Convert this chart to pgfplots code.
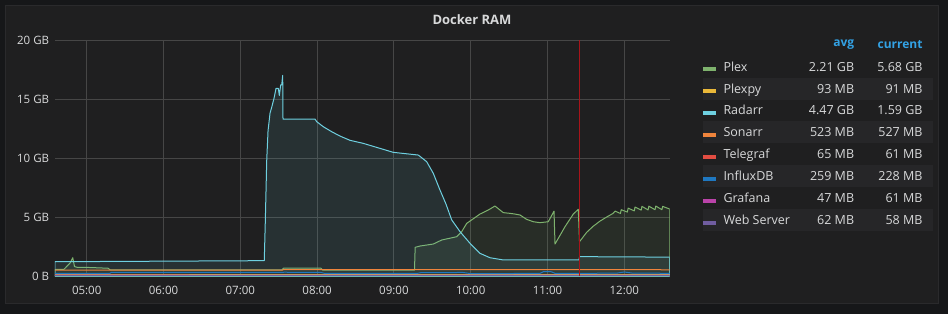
\documentclass[border=0pt]{standalone}
\usepackage{pgfplots}
\pgfplotsset{compat=1.18}
\usepackage{fontspec}
\setmainfont{Open Sans}
\definecolor{pagebg}{HTML}{161719}
\definecolor{panelbg}{HTML}{1F1F20}
\definecolor{panelborder}{HTML}{2A2A2C}
\definecolor{rowbg}{HTML}{262628}
\definecolor{gridc}{HTML}{464646}
\definecolor{textc}{HTML}{D8D9DA}
\definecolor{headc}{HTML}{33A2E5}
\definecolor{cplex}{HTML}{7EB26D}
\definecolor{cplexpy}{HTML}{EAB839}
\definecolor{cradarr}{HTML}{6ED0E0}
\definecolor{csonarr}{HTML}{EF843C}
\definecolor{ctele}{HTML}{E24D42}
\definecolor{cinflux}{HTML}{1F78C1}
\definecolor{cgraf}{HTML}{BA43A9}
\definecolor{cweb}{HTML}{705DA0}
\definecolor{annot}{HTML}{A8141A}
\begin{document}
\begin{tikzpicture}
\fill[pagebg] (0pt,0pt) rectangle (948pt,-314pt);
\filldraw[fill=panelbg, draw=panelborder, line width=1pt] (5.5pt,-5.5pt) rectangle (938.5pt,-303.5pt);
\node[font=\bfseries\fontsize{13}{15}\selectfont, text=textc, inner sep=0pt] at (472pt,-20pt) {Docker RAM};
\begin{axis}[
  at={(55pt,-276pt)}, anchor=south west,
  scale only axis, width=614.6pt, height=236pt,
  xmin=4.587, xmax=12.59, ymin=0, ymax=20,
  axis line style={draw=none},
  major tick length=0pt,
  grid=major, grid style={draw=gridc, line width=1pt},
  xtick={5,6,7,8,9,10,11,12},
  xticklabels={05:00,06:00,07:00,08:00,09:00,10:00,11:00,12:00},
  ytick={0,5,10,15,20},
  yticklabels={0 B,5 GB,10 GB,15 GB,20 GB},
  ticklabel style={font=\fontsize{11.5}{13}\selectfont, text=textc, inner sep=0pt, text height=8.2pt, text depth=0pt},
  xticklabel style={anchor=north, yshift=-10.5pt},
  yticklabel style={anchor=east, xshift=-5.7pt},
  /pgf/number format/assume math mode=true,
  every axis plot/.append style={line width=1pt, line join=round},
]
% Plex
\addplot[draw=cplex, fill=cplex, fill opacity=0.1] coordinates {
(4.587,0.55)(4.704,0.57)(4.783,1.10)(4.818,1.55)(4.841,0.80)(4.874,0.74)(5.043,0.72)(5.277,0.66)(5.303,0.53)
(7.543,0.53)(7.562,0.66)(8.051,0.66)(8.070,0.50)(9.268,0.50)(9.277,2.43)(9.340,2.54)(9.513,2.71)(9.622,3.05)
(9.818,3.33)(9.883,3.76)(9.948,4.46)(10.121,5.25)(10.229,5.59)(10.316,5.93)(10.424,5.37)(10.512,5.31)(10.577,5.25)
(10.642,5.17)(10.729,4.80)(10.816,4.60)(10.902,4.52)(11.010,4.60)(11.085,5.50)(11.098,2.71)(11.228,4.18)(11.336,5.25)
(11.401,5.65)(11.417,2.91)(11.510,3.70)(11.592,4.20)(11.683,4.65)(11.771,5.00)(11.853,5.30)(11.880,5.50)(11.950,5.30)
(11.960,5.62)(12.040,5.42)(12.050,5.75)(12.130,5.52)(12.140,5.85)(12.220,5.58)(12.230,5.90)(12.310,5.60)(12.320,5.92)
(12.400,5.62)(12.410,5.93)(12.490,5.62)(12.500,5.90)(12.590,5.68)
} \closedcycle;
% Plexpy
\addplot[draw=cplexpy] coordinates {(4.587,0.09)(12.59,0.09)};
% Radarr
\addplot[draw=cradarr, fill=cradarr, fill opacity=0.1] coordinates {
(4.587,1.21)(7.312,1.30)(7.325,4.5)(7.344,9.8)(7.361,12.3)(7.387,13.8)(7.409,14.3)(7.439,15.06)(7.465,15.9)
(7.495,15.9)(7.508,15.3)(7.526,16.2)(7.539,16.2)(7.552,17.0)(7.556,13.3)(7.973,13.3)(7.995,13.08)(8.081,12.65)
(8.190,12.23)(8.298,11.86)(8.428,11.5)(8.602,11.24)(8.776,10.9)(8.992,10.48)(9.318,10.25)(9.427,9.69)(9.513,8.7)
(9.600,7.29)(9.678,6.1)(9.753,4.75)(9.861,3.76)(9.991,2.77)(10.121,1.92)(10.251,1.55)(10.424,1.36)(11.410,1.36)
(11.418,1.64)(12.59,1.60)
} \closedcycle;
% Sonarr
\addplot[draw=csonarr] coordinates {(4.587,0.50)(7.55,0.50)(7.56,0.54)(12.59,0.53)};
% Telegraf
\addplot[draw=ctele] coordinates {(4.587,0.065)(12.59,0.061)};
% InfluxDB
\addplot[draw=cinflux] coordinates {
(4.587,0.22)(5.30,0.22)(5.32,0.30)(7.55,0.30)(7.57,0.32)(8.05,0.30)(8.10,0.22)(9.30,0.22)(9.35,0.28)(9.90,0.30)
(10.0,0.20)(10.90,0.22)(10.95,0.38)(11.05,0.36)(11.10,0.22)(11.90,0.24)(12.0,0.34)(12.1,0.25)(12.59,0.228)
};
% Grafana
\addplot[draw=cgraf] coordinates {(4.587,0.045)(12.59,0.061)};
% Web Server
\addplot[draw=cweb] coordinates {(4.587,0.062)(12.59,0.058)};
% annotation
\addplot[draw=annot] coordinates {(11.414,0)(11.414,20)};
\end{axis}
% legend
\foreach \i in {1,3,5,7}{
  \pgfmathsetmacro{\yc}{66.7+21.9*\i}
  \fill[rowbg] (702.7pt,{-(\yc-10.95)*1pt}) rectangle (933.3pt,{-(\yc+10.95)*1pt});
}
\node[font=\bfseries\fontsize{12}{14}\selectfont, text=headc, anchor=east, inner sep=0pt] at (854.3pt,-45pt) {avg};
\node[font=\bfseries\fontsize{12}{14}\selectfont, text=headc, anchor=east, inner sep=0pt] at (922.7pt,-45pt) {current};
\foreach \n/\a/\c/\col [count=\j from 0] in {Plex/2.21 GB/5.68 GB/cplex, Plexpy/93 MB/91 MB/cplexpy, Radarr/4.47 GB/1.59 GB/cradarr, Sonarr/523 MB/527 MB/csonarr, Telegraf/65 MB/61 MB/ctele, InfluxDB/259 MB/228 MB/cinflux, Grafana/47 MB/61 MB/cgraf, Web Server/62 MB/58 MB/cweb}{
  \pgfmathsetmacro{\yc}{66.7+21.9*\j}
  \fill[\col] (703.3pt,{-(\yc+0.5)*1pt}) rectangle (716pt,{-(\yc+4.5)*1pt});
  \node[font=\fontsize{12.5}{14}\selectfont, text=textc, anchor=west, inner sep=0pt, text height=8.9pt, text depth=0pt] at (723.3pt,{-\yc*1pt}) {\n};
  \node[font=\fontsize{12.5}{14}\selectfont, text=textc, anchor=east, inner sep=0pt, text height=8.9pt, text depth=0pt] at (854.3pt,{-\yc*1pt}) {\a};
  \node[font=\fontsize{12.5}{14}\selectfont, text=textc, anchor=east, inner sep=0pt, text height=8.9pt, text depth=0pt] at (922.7pt,{-\yc*1pt}) {\c};
}
\end{tikzpicture}
\end{document}
